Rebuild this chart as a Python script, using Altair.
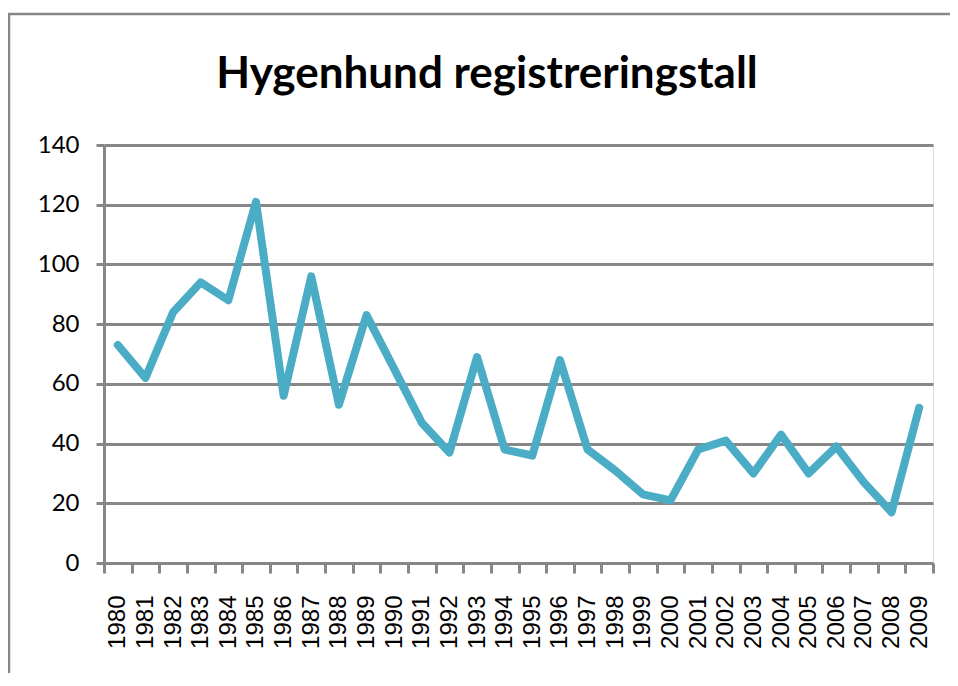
import altair as alt
import pandas as pd

years = [str(y) for y in range(1980, 2010)]
values = [73, 62, 84, 94, 88, 121, 56, 96, 53, 83,
          65, 47, 37, 69, 38, 36, 68, 38, 31, 23,
          21, 38, 41, 30, 43, 30, 39, 27, 17, 52]
y_ticks = [0, 20, 40, 60, 80, 100, 120, 140]
title_text = "Hygenhund registreringstall"

df = pd.DataFrame({"year": years, "count": values})

GRAY = "#878787"
LINE = "#4BACC6"

one = pd.DataFrame({"a": [0]})

border_left = alt.Chart(one).mark_rule(
    color=GRAY, strokeWidth=2.5, clip=False
).encode(x=alt.value(-95), y=alt.value(-132), y2=alt.value(900))

border_top = alt.Chart(one).mark_rule(
    color=GRAY, strokeWidth=2.5, clip=False
).encode(x=alt.value(-96), x2=alt.value(1200), y=alt.value(-131))

title = alt.Chart(pd.DataFrame({"t": [title_text]})).mark_text(
    align="center", baseline="alphabetic",
    font="Lato", fontSize=44, fontWeight="bold", color="#000000", clip=False
).encode(text="t:N", x=alt.value(383), y=alt.value(-57))

line = alt.Chart(df).mark_line(
    color=LINE, strokeWidth=8, strokeCap="round", strokeJoin="round"
).encode(
    x=alt.X("year:O", sort=years,
            scale=alt.Scale(type="band", paddingInner=0, paddingOuter=0),
            axis=alt.Axis(title=None, labelAngle=270, labelFont="Liberation Sans",
                          labelFontSize=24, labelColor="#000000", labelPadding=22,
                          tickBand="extent", tickSize=10, tickWidth=3, tickColor=GRAY,
                          domainColor=GRAY, domainWidth=3, grid=False)),
    y=alt.Y("count:Q", scale=alt.Scale(domain=[0, 140], nice=False),
            axis=alt.Axis(title=None, values=y_ticks, labelFont="Lato",
                          labelFontSize=24, labelColor="#000000", labelPadding=17,
                          tickSize=8, tickWidth=3, tickColor=GRAY,
                          domainColor=GRAY, domainWidth=3,
                          grid=True, gridColor=GRAY, gridWidth=3))
)

chart = alt.layer(border_left, border_top, title, line).properties(
    width=829, height=418,
    autosize=alt.AutoSizeParams(type="none"),
    padding={"left": 96, "top": 137, "right": 17, "bottom": 110},
).configure_view(stroke=None).configure(background="white")

chart.save("out.html", embed_options={"renderer": "svg", "actions": False})
